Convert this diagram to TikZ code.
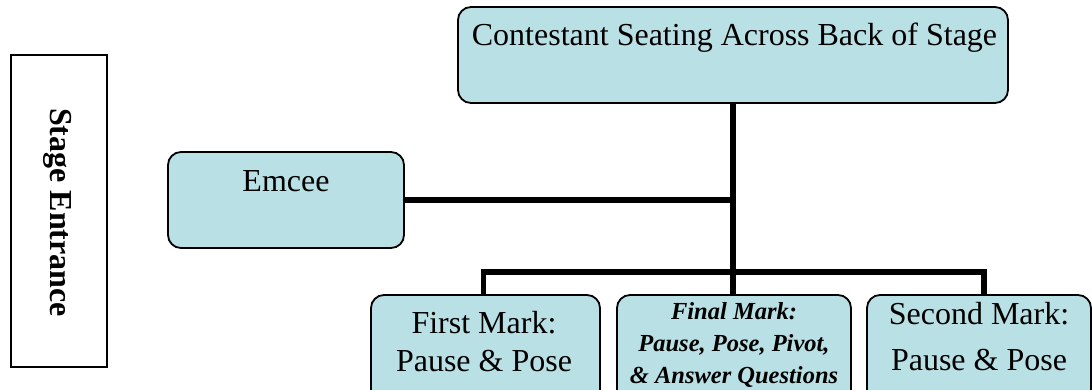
\documentclass[tikz,border=0pt]{standalone}
\usepackage{fontspec}
\setmainfont{Liberation Serif}
\definecolor{boxfill}{RGB}{185,224,228}
\begin{document}
\begin{tikzpicture}[x=1pt,y=-1pt,
  box/.style={draw=black, line width=1.8pt, fill=boxfill, rounded corners=13pt, inner sep=0pt},
  conn/.style={line width=5.5pt, line cap=butt, line join=miter},
  bigtext/.style={font=\fontsize{32}{38}\selectfont, inner sep=0pt},
  smalltext/.style={font=\fontsize{24.5}{32}\selectfont\bfseries\itshape, inner sep=0pt},
]
\useasboundingbox (0,0) rectangle (1092,389);
\clip (0,0) rectangle (1092,389);

% boxes
\node[draw=black, line width=1.8pt, fill=white, minimum width=96pt, minimum height=312pt, inner sep=0pt] (stage) at (59,211) {};
\node[box, minimum width=550pt, minimum height=96pt] (top) at (733,55) {};
\node[box, minimum width=236pt, minimum height=96pt] (emcee) at (286,200) {};
\node[box, minimum width=229pt, minimum height=110pt] (first) at (485.5,350) {};
\node[box, minimum width=234pt, minimum height=110pt] (final) at (734,350) {};
\node[box, minimum width=224pt, minimum height=110pt] (second) at (979,350) {};

% connectors
\coordinate (bar) at (734,272);
\draw[conn] (top.south) -- (top.south |- final.north);
\draw[conn] (emcee.east) -- (emcee.east -| top.south);
\draw[conn] ([xshift=-2pt]first.north) -- ([xshift=-2pt]first.north |- bar) -- ([xshift=5pt]second.north |- bar) -- ([xshift=5pt]second.north);

% texts
\node[bigtext, anchor=base] (toptext) at (734.5,45) {Contestant Seating Across Back of Stage};
\node[bigtext, anchor=base] (emceetext) at (286,191) {Emcee};
\node[bigtext, font=\fontsize{32}{38}\selectfont\bfseries, anchor=base, rotate=-90] (stagetext) at (50,212.5) {Stage Entrance};
\node[bigtext, align=center, anchor=base] (firsttext) at (484,371) {First Mark:\\Pause \& Pose};
\node[bigtext, font=\fontsize{32}{46}\selectfont, align=center, anchor=base] (secondtext) at (979,370) {Second Mark:\\Pause \& Pose};
\node[smalltext, align=center, anchor=base] (finaltext) at (734,383) {Final Mark:\\Pause, Pose, Pivot,\\\& Answer Questions};
\end{tikzpicture}
\end{document}
